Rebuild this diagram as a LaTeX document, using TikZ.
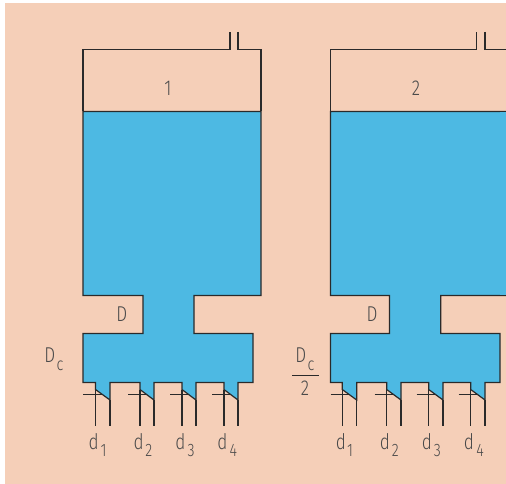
\documentclass[tikz,border=0pt]{standalone}
\usepackage{fontspec}
\setmainfont[FakeStretch=0.8,UprightFont=* Light]{Fira Sans}
\definecolor{peach}{HTML}{F5CFB8}
\definecolor{water}{HTML}{4DB9E3}
\definecolor{ink}{HTML}{2A2A2A}
\definecolor{txt}{HTML}{4A4A4A}
\tikzset{
  wall/.style={draw=ink,line width=1.2pt,line join=miter,line cap=butt},
  liquid/.style={wall,fill=water},
  lab/.style={inner sep=0pt,text=txt,font=\fontsize{21.5}{21.5}\selectfont},
  sub/.style={inner sep=0pt,text=txt,font=\fontsize{18}{18}\selectfont}
}
\begin{document}
\begin{tikzpicture}[x=1pt,y=-1pt]
\useasboundingbox (0,0) rectangle (506,484);
\fill[white] (0,0) rectangle (506,484);
\fill[peach] (5,3) rectangle (506,484);
% unit 1
\draw[wall] (83,111.5) -- (83,49.5) -- (230,49.5) -- (230,32);
\draw[wall] (238,32) -- (238,49.5) -- (261,49.5) -- (261,111.5);
\draw[liquid] (83,111.5) -- (261,111.5) -- (261,295.5) -- (194,295.5) -- (194,333.5) -- (253,333.5) -- (253,382.5) -- (238,382.5) -- (238,400) -- (224,389.5) -- (224,382.5) -- (196,382.5) -- (196,400) -- (182,389.5) -- (182,382.5) -- (154,382.5) -- (154,400) -- (140,389.5) -- (140,382.5) -- (110,382.5) -- (110,400) -- (95.5,389.5) -- (95.5,382.5) -- (83,382.5) -- (83,333.5) -- (143,333.5) -- (143,295.5) -- (83,295.5) -- cycle;
\foreach \a/\b in {95.5/110,140/154,182/196,224/238}{
  \draw[wall] (\a,389.5) -- (\a,425.5);
  \draw[wall] (\b,400) -- (\b,425.5);
}
\foreach \a/\b in {83/102,128/146.5,170/188.5,212/230.5}{
  \draw[wall] (\a,394.7) -- (\b,394.7);
}
\node[lab] (n1) at (168,88) {1};
\node[lab] (D1) at (121.7,314) {D};
\node[lab] (Dc1) at (49.7,355.5) {D};
\node[sub] (c1) at (60,365.5) {c};
\node[lab] (d11) at (93.7,441.3) {d};
\node[sub] (s11) at (103.5,450.3) {1};
\node[lab] (d12) at (138.7,441.3) {d};
\node[sub] (s12) at (148.7,450.3) {2};
\node[lab] (d13) at (180.3,441.3) {d};
\node[sub] (s13) at (191,450.3) {3};
\node[lab] (d14) at (222.5,441.3) {d};
\node[sub] (s14) at (233.3,450.3) {4};
% unit 2
\draw[wall] (330.5,111.5) -- (330.5,49.5) -- (476.7,49.5) -- (476.7,32);
\draw[wall] (485,32) -- (485,49.5) -- (506,49.5);
\draw[liquid] (506,111.5) -- (330.5,111.5) -- (330.5,295.5) -- (389.5,295.5) -- (389.5,333.5) -- (330.5,333.5) -- (330.5,382.5) -- (342.3,382.5) -- (342.3,389.5) -- (356.7,400) -- (356.7,382.5) -- (386.7,382.5) -- (386.7,389.5) -- (401,400) -- (401,382.5) -- (428.7,382.5) -- (428.7,389.5) -- (443,400) -- (443,382.5) -- (470.7,382.5) -- (470.7,389.5) -- (485,400) -- (485,382.5) -- (500,382.5) -- (500,333.5) -- (440.7,333.5) -- (440.7,295.5) -- (506,295.5);
\fill[water] (500,112) rectangle (506,295);
\foreach \a/\b in {342.3/356.7,386.7/401,428.7/443,470.7/485}{
  \draw[wall] (\a,389.5) -- (\a,425.5);
  \draw[wall] (\b,400) -- (\b,425.5);
}
\foreach \a/\b in {330.5/349,374.5/393,416.5/435,458.5/477}{
  \draw[wall] (\a,394.7) -- (\b,394.7);
}
\node[lab] (n2) at (416,88) {2};
\node[lab] (D2) at (372,314) {D};
\node[lab] (Dc2) at (300.7,355.5) {D};
\node[sub] (c2) at (311,365.5) {c};
\coordinate (fa) at (292,375);
\coordinate (fb) at (318.7,375);
\draw[draw=ink,line width=0.9pt] (fa) -- (fb);
\node[lab] (two) at (305,388) {2};
\node[lab] (d21) at (341,441.3) {d};
\node[sub] (s21) at (350,450.3) {1};
\node[lab] (d22) at (385,441.3) {d};
\node[sub] (s22) at (395.3,450.3) {2};
\node[lab] (d23) at (427,441.3) {d};
\node[sub] (s23) at (437.3,450.3) {3};
\node[lab] (d24) at (469,441.3) {d};
\node[sub] (s24) at (480,450.3) {4};
\end{tikzpicture}
\end{document}
